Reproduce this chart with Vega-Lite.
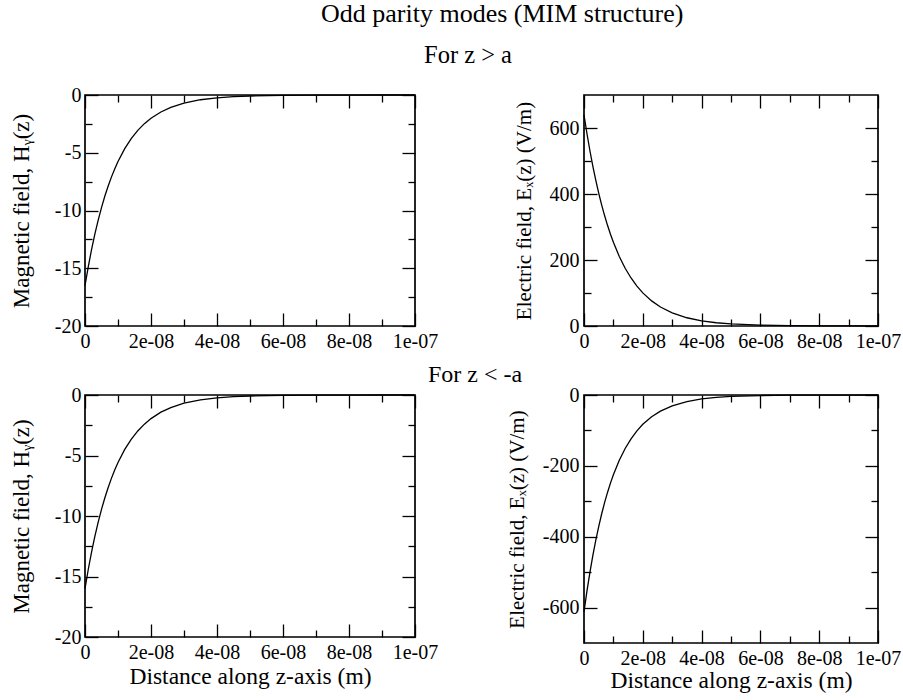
{
  "$schema": "https://vega.github.io/schema/vega-lite/v6.json",
  "padding": {"left": 9, "top": 0, "right": 5, "bottom": 5},
  "background": "white",
  "title": {"text": "Odd parity modes (MIM structure)", "frame": "group", "anchor": "start", "dx": 236, "offset": -6, "baseline": "alphabetic", "fontSize": 26, "font": "Liberation Serif", "fontWeight": "normal", "color": "black"},
  "datasets": {
    "tl": [
      {"z": 0, "v": -16.5}, {"z": 1e-9, "v": -14.85}, {"z": 2e-9, "v": -13.37}, {"z": 3e-9, "v": -12.03}, {"z": 4e-9, "v": -10.83},
      {"z": 5e-9, "v": -9.75}, {"z": 6e-9, "v": -8.77}, {"z": 7e-9, "v": -7.90}, {"z": 8e-9, "v": -7.11}, {"z": 9e-9, "v": -6.40},
      {"z": 1e-8, "v": -5.76}, {"z": 1.2e-8, "v": -4.67}, {"z": 1.4e-8, "v": -3.78}, {"z": 1.6e-8, "v": -3.06}, {"z": 1.8e-8, "v": -2.48},
      {"z": 2e-8, "v": -2.01}, {"z": 2.3e-8, "v": -1.47}, {"z": 2.6e-8, "v": -1.07}, {"z": 3e-8, "v": -0.70}, {"z": 3.5e-8, "v": -0.41},
      {"z": 4e-8, "v": -0.245}, {"z": 4.5e-8, "v": -0.145}, {"z": 5e-8, "v": -0.085}, {"z": 6e-8, "v": -0.030}, {"z": 7e-8, "v": -0.010},
      {"z": 8e-8, "v": -0.004}, {"z": 9e-8, "v": -0.001}, {"z": 1e-7, "v": -0.0005}
    ],
    "bl": [
      {"z": 0, "v": -16.0}, {"z": 1e-9, "v": -14.40}, {"z": 2e-9, "v": -12.96}, {"z": 3e-9, "v": -11.67}, {"z": 4e-9, "v": -10.50},
      {"z": 5e-9, "v": -9.45}, {"z": 6e-9, "v": -8.51}, {"z": 7e-9, "v": -7.66}, {"z": 8e-9, "v": -6.89}, {"z": 9e-9, "v": -6.20},
      {"z": 1e-8, "v": -5.58}, {"z": 1.2e-8, "v": -4.52}, {"z": 1.4e-8, "v": -3.67}, {"z": 1.6e-8, "v": -2.97}, {"z": 1.8e-8, "v": -2.41},
      {"z": 2e-8, "v": -1.95}, {"z": 2.3e-8, "v": -1.42}, {"z": 2.6e-8, "v": -1.04}, {"z": 3e-8, "v": -0.68}, {"z": 3.5e-8, "v": -0.40},
      {"z": 4e-8, "v": -0.24}, {"z": 4.5e-8, "v": -0.14}, {"z": 5e-8, "v": -0.083}, {"z": 6e-8, "v": -0.029}, {"z": 7e-8, "v": -0.010},
      {"z": 8e-8, "v": -0.0035}, {"z": 9e-8, "v": -0.0012}, {"z": 1e-7, "v": -0.0004}
    ],
    "tr": [
      {"z": 0, "v": 640}, {"z": 1e-9, "v": 583.4}, {"z": 2e-9, "v": 531.8}, {"z": 3e-9, "v": 484.8}, {"z": 4e-9, "v": 441.9},
      {"z": 5e-9, "v": 402.8}, {"z": 6e-9, "v": 367.2}, {"z": 7e-9, "v": 334.7}, {"z": 8e-9, "v": 305.1}, {"z": 9e-9, "v": 278.2},
      {"z": 1e-8, "v": 253.6}, {"z": 1.2e-8, "v": 210.7}, {"z": 1.4e-8, "v": 175.1}, {"z": 1.6e-8, "v": 145.5}, {"z": 1.8e-8, "v": 120.9},
      {"z": 2e-8, "v": 100.4}, {"z": 2.3e-8, "v": 76.1}, {"z": 2.6e-8, "v": 57.7}, {"z": 3e-8, "v": 39.8}, {"z": 3.5e-8, "v": 25.0},
      {"z": 4e-8, "v": 15.8}, {"z": 4.5e-8, "v": 9.9}, {"z": 5e-8, "v": 6.2}, {"z": 6e-8, "v": 2.5}, {"z": 7e-8, "v": 0.98},
      {"z": 8e-8, "v": 0.39}, {"z": 9e-8, "v": 0.15}, {"z": 1e-7, "v": 0.06}
    ],
    "br": [
      {"z": 0, "v": -612}, {"z": 1e-9, "v": -553.8}, {"z": 2e-9, "v": -501.1}, {"z": 3e-9, "v": -453.4}, {"z": 4e-9, "v": -410.2},
      {"z": 5e-9, "v": -371.2}, {"z": 6e-9, "v": -335.9}, {"z": 7e-9, "v": -303.9}, {"z": 8e-9, "v": -275.0}, {"z": 9e-9, "v": -248.8},
      {"z": 1e-8, "v": -225.1}, {"z": 1.2e-8, "v": -184.3}, {"z": 1.4e-8, "v": -150.9}, {"z": 1.6e-8, "v": -123.6}, {"z": 1.8e-8, "v": -101.2},
      {"z": 2e-8, "v": -82.8}, {"z": 2.3e-8, "v": -61.4}, {"z": 2.6e-8, "v": -45.5}, {"z": 3e-8, "v": -30.5}, {"z": 3.5e-8, "v": -18.5},
      {"z": 4e-8, "v": -11.2}, {"z": 4.5e-8, "v": -6.8}, {"z": 5e-8, "v": -4.1}, {"z": 6e-8, "v": -1.5}, {"z": 7e-8, "v": -0.56},
      {"z": 8e-8, "v": -0.21}, {"z": 9e-8, "v": -0.08}, {"z": 1e-7, "v": -0.03}
    ]
  },
  "bounds": "flush",
  "center": true,
  "columns": 2,
  "spacing": {"row": 69, "column": 169},
  "concat": [
    {
      "width": 330, "height": 231,
      "data": {"name": "tl"},
      "title": {"text": "For z > a", "frame": "group", "anchor": "end", "dx": 97, "offset": -2, "baseline": "alphabetic", "fontSize": 24.5, "font": "Liberation Serif", "fontWeight": "normal", "color": "black"},
      "layer": [
        {"mark": {"type": "line", "color": "black", "strokeWidth": 1.3},
         "encoding": {
           "x": {"field": "z", "type": "quantitative", "scale": {"domain": [0, 1e-7], "nice": false, "zero": false}, "axis": {"orient": "bottom", "values": [0, 2e-8, 4e-8, 6e-8, 8e-8, 1e-7], "tickSize": -13, "labelExpr": "datum.value == 0 ? '0' : replace(format(datum.value, '.0e'), 'e-', 'e-0')", "title": null}},
           "y": {"field": "v", "type": "quantitative", "scale": {"domain": [-20, 0], "nice": false, "zero": false}, "axis": {"orient": "left", "values": [-20, -15, -10, -5, 0], "tickSize": -13, "labelPadding": 17, "labelExpr": "'' + datum.value", "title": "Magnetic field, Hᵧ(z)", "titleFontSize": 23, "titlePadding": 21}}
         }},
        {"mark": {"type": "line", "opacity": 0},
         "encoding": {
           "x": {"field": "z", "type": "quantitative", "scale": {"domain": [0, 1e-7], "nice": false, "zero": false}, "axis": {"orient": "top", "values": [0, 2e-8, 4e-8, 6e-8, 8e-8, 1e-7], "tickSize": -13, "labels": false, "title": null}},
           "y": {"field": "v", "type": "quantitative", "scale": {"domain": [-20, 0], "nice": false, "zero": false}, "axis": {"orient": "right", "values": [-20, -15, -10, -5, 0], "tickSize": -13, "labels": false, "title": null}}
         }},
        {"mark": {"type": "line", "opacity": 0},
         "encoding": {
           "x": {"field": "z", "type": "quantitative", "scale": {"domain": [0, 1e-7], "nice": false, "zero": false}, "axis": {"orient": "bottom", "values": [1e-8, 3e-8, 5e-8, 7e-8, 9e-8], "tickSize": -7, "labels": false, "title": null}},
           "y": {"field": "v", "type": "quantitative", "scale": {"domain": [-20, 0], "nice": false, "zero": false}, "axis": {"orient": "left", "values": [-17.5, -12.5, -7.5, -2.5], "tickSize": -7, "labels": false, "title": null}}
         }},
        {"mark": {"type": "line", "opacity": 0},
         "encoding": {
           "x": {"field": "z", "type": "quantitative", "scale": {"domain": [0, 1e-7], "nice": false, "zero": false}, "axis": {"orient": "top", "values": [1e-8, 3e-8, 5e-8, 7e-8, 9e-8], "tickSize": -7, "labels": false, "title": null}},
           "y": {"field": "v", "type": "quantitative", "scale": {"domain": [-20, 0], "nice": false, "zero": false}, "axis": {"orient": "right", "values": [-17.5, -12.5, -7.5, -2.5], "tickSize": -7, "labels": false, "title": null}}
         }}
      ],
      "resolve": {"axis": {"x": "independent", "y": "independent"}}
    },
    {
      "width": 294, "height": 231,
      "data": {"name": "tr"},
      "layer": [
        {"mark": {"type": "line", "color": "black", "strokeWidth": 1.3},
         "encoding": {
           "x": {"field": "z", "type": "quantitative", "scale": {"domain": [0, 1e-7], "nice": false, "zero": false}, "axis": {"orient": "bottom", "values": [0, 2e-8, 4e-8, 6e-8, 8e-8, 1e-7], "tickSize": -13, "labelExpr": "datum.value == 0 ? '0' : replace(format(datum.value, '.0e'), 'e-', 'e-0')", "title": null}},
           "y": {"field": "v", "type": "quantitative", "scale": {"domain": [0, 700], "nice": false, "zero": false}, "axis": {"orient": "left", "values": [0, 200, 400, 600], "tickSize": -13, "labelPadding": 18, "labelExpr": "'' + datum.value", "title": "Electric field, Eₓ(z)  (V/m)", "titleFontSize": 21, "titlePadding": 15}}
         }},
        {"mark": {"type": "line", "opacity": 0},
         "encoding": {
           "x": {"field": "z", "type": "quantitative", "scale": {"domain": [0, 1e-7], "nice": false, "zero": false}, "axis": {"orient": "top", "values": [0, 2e-8, 4e-8, 6e-8, 8e-8, 1e-7], "tickSize": -13, "labels": false, "title": null}},
           "y": {"field": "v", "type": "quantitative", "scale": {"domain": [0, 700], "nice": false, "zero": false}, "axis": {"orient": "right", "values": [0, 200, 400, 600], "tickSize": -13, "labels": false, "title": null}}
         }},
        {"mark": {"type": "line", "opacity": 0},
         "encoding": {
           "x": {"field": "z", "type": "quantitative", "scale": {"domain": [0, 1e-7], "nice": false, "zero": false}, "axis": {"orient": "bottom", "values": [1e-8, 3e-8, 5e-8, 7e-8, 9e-8], "tickSize": -7, "labels": false, "title": null}},
           "y": {"field": "v", "type": "quantitative", "scale": {"domain": [0, 700], "nice": false, "zero": false}, "axis": {"orient": "left", "values": [100, 300, 500], "tickSize": -7, "labels": false, "title": null}}
         }},
        {"mark": {"type": "line", "opacity": 0},
         "encoding": {
           "x": {"field": "z", "type": "quantitative", "scale": {"domain": [0, 1e-7], "nice": false, "zero": false}, "axis": {"orient": "top", "values": [1e-8, 3e-8, 5e-8, 7e-8, 9e-8], "tickSize": -7, "labels": false, "title": null}},
           "y": {"field": "v", "type": "quantitative", "scale": {"domain": [0, 700], "nice": false, "zero": false}, "axis": {"orient": "right", "values": [100, 300, 500], "tickSize": -7, "labels": false, "title": null}}
         }}
      ],
      "resolve": {"axis": {"x": "independent", "y": "independent"}}
    },
    {
      "width": 330, "height": 242,
      "data": {"name": "bl"},
      "layer": [
        {"mark": {"type": "line", "color": "black", "strokeWidth": 1.3},
         "encoding": {
           "x": {"field": "z", "type": "quantitative", "scale": {"domain": [0, 1e-7], "nice": false, "zero": false}, "axis": {"orient": "bottom", "values": [0, 2e-8, 4e-8, 6e-8, 8e-8, 1e-7], "tickSize": -13, "labelExpr": "datum.value == 0 ? '0' : replace(format(datum.value, '.0e'), 'e-', 'e-0')", "title": "Distance along z-axis (m)", "titleFontSize": 23.5, "titlePadding": 2}},
           "y": {"field": "v", "type": "quantitative", "scale": {"domain": [-20, 0], "nice": false, "zero": false}, "axis": {"orient": "left", "values": [-20, -15, -10, -5, 0], "tickSize": -13, "labelPadding": 17, "labelExpr": "'' + datum.value", "title": "Magnetic field, Hᵧ(z)", "titleFontSize": 23, "titlePadding": 21}}
         }},
        {"mark": {"type": "line", "opacity": 0},
         "encoding": {
           "x": {"field": "z", "type": "quantitative", "scale": {"domain": [0, 1e-7], "nice": false, "zero": false}, "axis": {"orient": "top", "values": [0, 2e-8, 4e-8, 6e-8, 8e-8, 1e-7], "tickSize": -13, "labels": false, "title": null}},
           "y": {"field": "v", "type": "quantitative", "scale": {"domain": [-20, 0], "nice": false, "zero": false}, "axis": {"orient": "right", "values": [-20, -15, -10, -5, 0], "tickSize": -13, "labels": false, "title": null}}
         }},
        {"mark": {"type": "line", "opacity": 0},
         "encoding": {
           "x": {"field": "z", "type": "quantitative", "scale": {"domain": [0, 1e-7], "nice": false, "zero": false}, "axis": {"orient": "bottom", "values": [1e-8, 3e-8, 5e-8, 7e-8, 9e-8], "tickSize": -7, "labels": false, "title": null}},
           "y": {"field": "v", "type": "quantitative", "scale": {"domain": [-20, 0], "nice": false, "zero": false}, "axis": {"orient": "left", "values": [-17.5, -12.5, -7.5, -2.5], "tickSize": -7, "labels": false, "title": null}}
         }},
        {"mark": {"type": "line", "opacity": 0},
         "encoding": {
           "x": {"field": "z", "type": "quantitative", "scale": {"domain": [0, 1e-7], "nice": false, "zero": false}, "axis": {"orient": "top", "values": [1e-8, 3e-8, 5e-8, 7e-8, 9e-8], "tickSize": -7, "labels": false, "title": null}},
           "y": {"field": "v", "type": "quantitative", "scale": {"domain": [-20, 0], "nice": false, "zero": false}, "axis": {"orient": "right", "values": [-17.5, -12.5, -7.5, -2.5], "tickSize": -7, "labels": false, "title": null}}
         }}
      ],
      "resolve": {"axis": {"x": "independent", "y": "independent"}}
    },
    {
      "width": 294, "height": 248,
      "data": {"name": "br"},
      "title": {"text": "For z < -a", "frame": "group", "anchor": "start", "dx": -156, "offset": 0, "dy": 21, "baseline": "alphabetic", "fontSize": 24, "font": "Liberation Serif", "fontWeight": "normal", "color": "black"},
      "layer": [
        {"mark": {"type": "line", "color": "black", "strokeWidth": 1.3},
         "encoding": {
           "x": {"field": "z", "type": "quantitative", "scale": {"domain": [0, 1e-7], "nice": false, "zero": false}, "axis": {"orient": "bottom", "values": [0, 2e-8, 4e-8, 6e-8, 8e-8, 1e-7], "tickSize": -13, "labelExpr": "datum.value == 0 ? '0' : replace(format(datum.value, '.0e'), 'e-', 'e-0')", "title": "Distance along z-axis (m)", "titleFontSize": 23.5, "titlePadding": 0}},
           "y": {"field": "v", "type": "quantitative", "scale": {"domain": [-700, 0], "nice": false, "zero": false}, "axis": {"orient": "left", "values": [-600, -400, -200, 0], "tickSize": -13, "labelPadding": 18, "labelExpr": "'' + datum.value", "title": "Electric field, Eₓ(z) (V/m)", "titleFontSize": 21, "titlePadding": 15}}
         }},
        {"mark": {"type": "line", "opacity": 0},
         "encoding": {
           "x": {"field": "z", "type": "quantitative", "scale": {"domain": [0, 1e-7], "nice": false, "zero": false}, "axis": {"orient": "top", "values": [0, 2e-8, 4e-8, 6e-8, 8e-8, 1e-7], "tickSize": -13, "labels": false, "title": null}},
           "y": {"field": "v", "type": "quantitative", "scale": {"domain": [-700, 0], "nice": false, "zero": false}, "axis": {"orient": "right", "values": [-600, -400, -200, 0], "tickSize": -13, "labels": false, "title": null}}
         }},
        {"mark": {"type": "line", "opacity": 0},
         "encoding": {
           "x": {"field": "z", "type": "quantitative", "scale": {"domain": [0, 1e-7], "nice": false, "zero": false}, "axis": {"orient": "bottom", "values": [1e-8, 3e-8, 5e-8, 7e-8, 9e-8], "tickSize": -7, "labels": false, "title": null}},
           "y": {"field": "v", "type": "quantitative", "scale": {"domain": [-700, 0], "nice": false, "zero": false}, "axis": {"orient": "left", "values": [-500, -300, -100], "tickSize": -7, "labels": false, "title": null}}
         }},
        {"mark": {"type": "line", "opacity": 0},
         "encoding": {
           "x": {"field": "z", "type": "quantitative", "scale": {"domain": [0, 1e-7], "nice": false, "zero": false}, "axis": {"orient": "top", "values": [1e-8, 3e-8, 5e-8, 7e-8, 9e-8], "tickSize": -7, "labels": false, "title": null}},
           "y": {"field": "v", "type": "quantitative", "scale": {"domain": [-700, 0], "nice": false, "zero": false}, "axis": {"orient": "right", "values": [-500, -300, -100], "tickSize": -7, "labels": false, "title": null}}
         }}
      ],
      "resolve": {"axis": {"x": "independent", "y": "independent"}}
    }
  ],
  "config": {
    "font": "Liberation Serif",
    "view": {"stroke": "black", "strokeWidth": 1.7},
    "axis": {"grid": false, "domain": false, "labelFont": "Liberation Serif", "labelFontSize": 20, "labelColor": "black", "labelPadding": 18, "labelFlush": false, "labelOverlap": false, "titleFont": "Liberation Serif", "titleFontWeight": "normal", "titleColor": "black", "titlePadding": 8, "tickColor": "black", "tickWidth": 1.3}
  }
}
